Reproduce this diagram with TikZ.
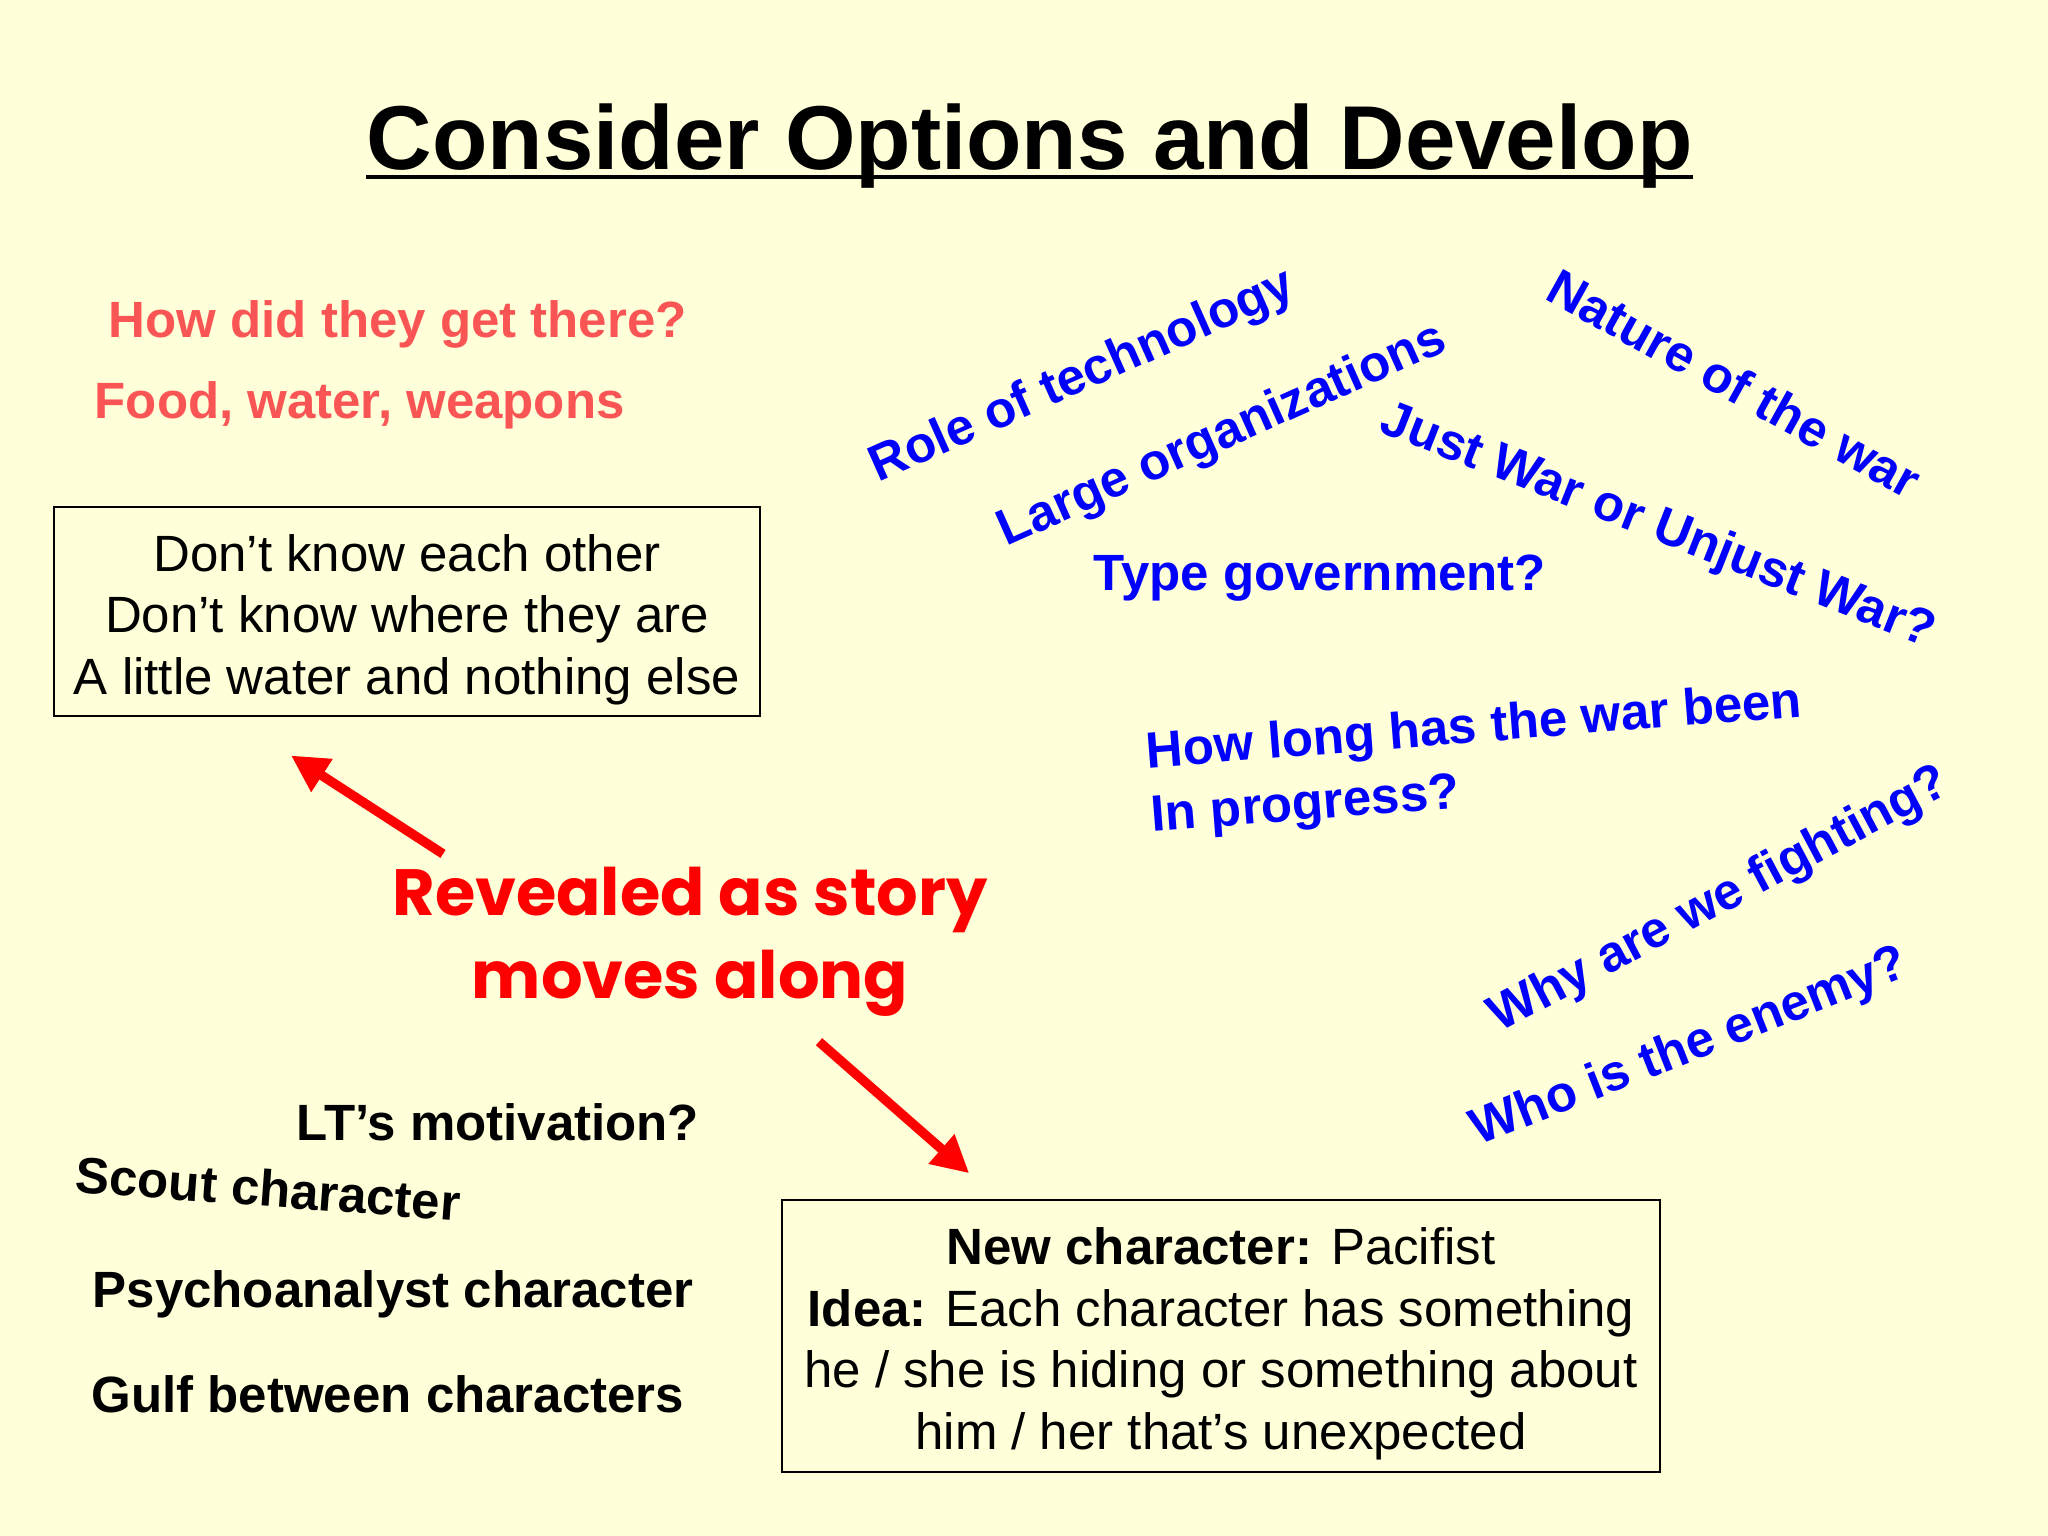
\documentclass[tikz,border=0pt]{standalone}
\usepackage{fontspec}
\setmainfont{Liberation Sans}
\newfontfamily\roundfont{Poppins}
\usetikzlibrary{calc,arrows.meta}
\definecolor{slidebg}{RGB}{255,255,217}
\definecolor{softred}{RGB}{250,85,85}
\definecolor{ideablue}{RGB}{0,0,255}
\definecolor{arrowred}{RGB}{255,0,0}
\newcommand{\boxstrut}{\rule{0pt}{15pt}}

\tikzset{
  bluenote/.style={text=ideablue, font=\fontsize{14.5}{18.2}\selectfont\bfseries, inner sep=0pt, anchor=base west},
  rednote/.style={text=softred, font=\fontsize{14.5}{17.5}\selectfont\bfseries, inner sep=0pt, anchor=base west},
  blacknote/.style={font=\fontsize{14.5}{17.5}\selectfont\bfseries, inner sep=0pt, anchor=base west},
  infobox/.style={draw, line width=0.6pt, align=center, font=\fontsize{14.5}{17.5}\selectfont},
  revealarrow/.style={arrowred, line width=2.7pt, -{Triangle[length=10.5pt,width=10.5pt]}},
}

\begin{document}
\begin{tikzpicture}[x=0.01cm, y=-0.01cm]
    % Slide background
    \fill[slidebg] (0,0) rectangle (2048,1536);
    \useasboundingbox (0,0) rectangle (2048,1536);

    % Title with underline
    \node[font=\fontsize{25.8}{31}\selectfont\bfseries, inner sep=0pt, anchor=base west] (title) at (366,169) {Consider Options and Develop};
    \draw[line width=1.15pt] ($(title.base west)+(0,8)$) -- ($(title.base east)+(0,8)$);

    % Setting questions
    \node[rednote] (howthere) at (108,337) {How did they get there?};
    \node[rednote] (supplies) at (94,418) {Food, water, weapons};

    % Situation box
    \node[infobox, minimum width=7.06cm, minimum height=2.05cm] (situation) at (407,611.5) {\boxstrut Don’t know each other\\Don’t know where they are\\A little water and nothing else};

    % War questions
    \node[bluenote, rotate=24] (technology) at (878,483) {Role of technology};
    \node[bluenote, rotate=24] (organizations) at (1006,547) {Large organizations};
    \node[bluenote] (government) at (1093,590) {Type government?};
    \node[bluenote, rotate=-29] (nature) at (1543,298) {Nature of the war};
    \node[bluenote, rotate=-21.5] (justwar) at (1377,431) {Just War or Unjust War?};
    \node[bluenote, rotate=4.5, align=left] (duration) at (1152,832) {How long has the war been\\In progress?};
    \node[bluenote, rotate=28] (fighting) at (1499,1033) {Why are we fighting?};
    \node[bluenote, rotate=21.5] (enemy) at (1478,1146) {Who is the enemy?};

    % Character questions
    \node[blacknote] (motivation) at (296,1140) {LT’s motivation?};
    \node[blacknote, rotate=-4.3] (scout) at (74,1192) {Scout character};
    \node[blacknote] (psycho) at (92,1307) {Psychoanalyst character};
    \node[blacknote] (gulf) at (91,1412) {Gulf between characters};

    % Character box
    \node[infobox, minimum width=8.77cm, minimum height=2.67cm] (newchar) at (1221,1336) {\boxstrut\textbf{New character:} Pacifist\\\textbf{Idea:} Each character has something\\he / she is hiding or something about\\him / her that’s unexpected};

    % Central remark and its arrows
    \node[text=arrowred, font=\roundfont\bfseries\fontsize{18.6}{23.6}\selectfont, align=center, inner sep=0pt, anchor=base] (reveal) at (690,998) {Revealed as story\\moves along};
    \draw[revealarrow] ($(reveal.north)+(-247,-12)$) -- ($(situation.south)+(-116,38)$);
    \draw[revealarrow] ($(reveal.south)+(129,25)$) -- ($(newchar.north west)+(188,-26)$);
\end{tikzpicture}
\end{document}
